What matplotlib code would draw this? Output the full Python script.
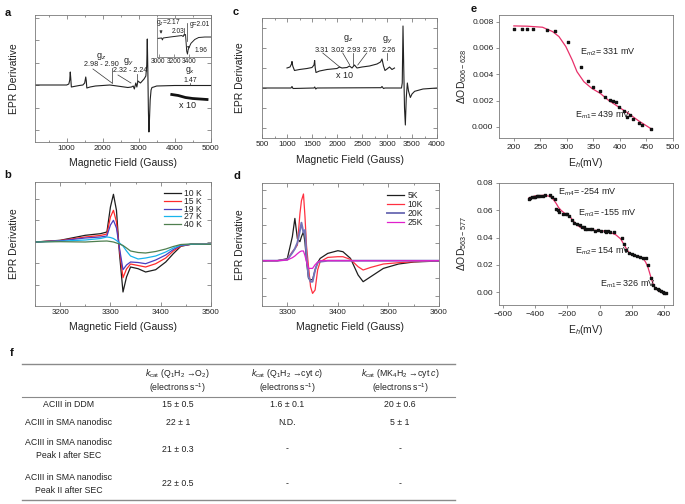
import numpy as np
import matplotlib.pyplot as plt
from matplotlib.ticker import MultipleLocator, FormatStrFormatter

plt.rcParams['font.family'] = ['Liberation Sans', 'DejaVu Sans']
plt.rcParams['mathtext.fontset'] = 'custom'
plt.rcParams['mathtext.rm'] = 'Liberation Sans'
plt.rcParams['mathtext.it'] = 'Liberation Sans:italic'

# ---------------- data ----------------
# a: full spectrum (field in G, signal in arb. units)
a_field = [120, 1000, 1060, 1085, 1100, 1115, 1130, 1200, 1350, 1450, 1500, 1530, 1545, 1560, 1650,
           1800, 2000, 2200, 2300, 2500, 2700, 2800, 2850, 2880, 2920, 2950, 2980, 3050, 3100, 3150,
           3200, 3225, 3240, 3255, 3270, 3285, 3300, 3320, 3345, 3370, 3420, 3500, 4000, 5000]
a_signal = [0, 0, 1, 5, 13, 6, -2, -1.5, -0.5, 0, 2, 8, 4, -3, -2,
            -1, -0.5, 0, -0.5, -1.5, -2.5, -2, -1, -4, 2, -2, 4, 2, 4, 6,
            9, 20, 46, 15, -25, -47, -35, -15, -5, -2.5, -2, -1, -0.5, -0.5]
a_x10_field = [3920, 4100, 4300, 4500, 4700, 4900]
a_x10_signal = [-9.5, -10.5, -12.5, -13.5, -14, -14.5]
# a inset
ai_field = [2980, 3040, 3050, 3060, 3150, 3250, 3300, 3320, 3330, 3350, 3365, 3375, 3385, 3420,
            3470, 3520, 3600, 3680]
ai_signal = [19, 19.5, 17.5, 19.5, 20.5, 21.5, 22, 21, 23, 23, 6, 3, 8, 14, 18, 20, 20.5, 20.5]
ai_ticks = [3000, 3200, 3400]

# c: spectrum and x10 trace
c_field = [500, 1080, 1100, 1120, 1540, 1555, 1575, 1600, 2880, 2900, 2930, 2960, 3290, 3305,
           3320, 3335, 3350, 3367, 3385, 3407, 3430, 3467, 3500, 3553, 3720, 4000]
c_signal = [0, 0, 1.5, -0.5, 0, 1, -1, 0, 0.3, 1.5, -0.5, 0, 0, 5,
            62, 20, -20, -37, -10, 5, -3, -9.5, -6, -3.3, -1, 0]
c_x10_field = [1000, 1060, 1090, 1100, 1115, 1150, 1250, 1400, 1500, 1540, 1553, 1565, 1580, 1650,
               1800, 2000, 2050, 2100, 2200, 2250, 2300, 2350, 2400, 2500, 2650, 2800, 2870, 2900,
               2930, 2960, 3000, 3050, 3100, 3150]
c_x10_signal = [20, 21, 24, 26.5, 22, 17.5, 18.5, 19.5, 20.5, 23, 27.5, 20, 15.5, 17,
                18.5, 19.5, 21, 20, 20.5, 22, 20, 23, 20, 21, 22, 24, 26, 29,
                22, 17.5, 19, 21, 18.5, 20]

# b: temperature series
b_labels = ['10 K', '15 K', '19 K', '27 K', '40 K']
b_colors = ['#1e1e1e', '#ff2a2a', '#4a3ec0', '#18b4ec', '#4f7f4f']
b_field = [3150, 3200, 3250, 3280, 3293, 3300, 3306, 3312, 3318, 3325, 3332, 3340, 3355, 3370,
           3390, 3410, 3425, 3440, 3460, 3500]
b_10K = [0, 1.7, 6.7, 8.3, 10, 35, 47.7, 31.7, -11.7, -50, -35, -25, -26.7, -30,
         -27.7, -20, -11.7, -4.3, -2.3, -2.3]
b_15K = [0, 1.5, 5, 6.5, 8, 25, 31.7, 20, -8, -35.7, -27, -22, -23.5, -25,
         -21.7, -16, -9, -4, -2.3, -2.3]
b_19K = [0, 1.2, 4, 5, 6, 17, 21.7, 14, -6, -27.7, -23, -20, -20.5, -21.7,
         -18, -13, -7.5, -3.5, -2.3, -2.3]
b_27K = [0, 0.8, 2, 3.5, 5, 4.5, 3.5, 1.5, -1, -4, -9, -14, -17, -16,
         -14, -10, -6, -3, -2.3, -2.3]
b_40K = [0, 0.3, 0, 0.8, 1, 0.5, 0, -1, -2, -3.5, -6, -9, -10.5, -11,
         -9.5, -7, -4.5, -2.5, -2, -2.3]

# d: temperature series
d_labels = ['5K', '10K', '20K', '25K']
d_colors = ['#1e1e1e', '#ff3040', '#7474b8', '#e020cc']
d_field = [3250, 3280, 3300, 3310, 3315, 3320, 3325, 3328, 3332, 3335, 3338, 3342, 3346, 3350,
           3355, 3360, 3365, 3380, 3400, 3410, 3425, 3440, 3450, 3465, 3490, 3520, 3550, 3600]
d_5K = [0, 0, 2, 24, 42.3, 22, 19, 24, 29, 18, 0, -17.7, -19, -19,
        -9.3, -2, 2.3, 7.3, 10, 9, 2.3, -14.3, -21, -16, -7.7, -3.3, -1.3, -0.3]
d_10K = [0, 0, 1.3, 9, 12, 15.7, 47, 60, 66.7, 44, 15, -6, -26, -32.7,
         -29.3, -9.3, -1, 3.3, 4, 4, 1.3, -6, -9.3, -6.7, -3.3, -2, -1, 0]
d_20K = [0, 0, 1, 8, 12, 18, 30, 38, 28, 30.7, 4, -16, -21, -21,
         -9.3, -2, -1, 0, 0, 0, 0, 0, 0, 0, 0, 0, 0, 0]
d_25K = [0, 0, 0.7, 3, 4.7, 7, 9, 9.7, 9.7, 5, -1, -7.7, -7.7, -7.7,
         -4, -1.5, 0, 0, 0, 0, 0, 0, 0, 0, 0, 0, 0, 0]

# e top: redox titration
et_eh = [200, 216, 225, 237, 262, 278, 303, 326, 339, 350, 363, 372, 381, 386, 392, 398, 408, 413,
         419, 425, 435, 441, 458]
et_od = [0.00741, 0.00747, 0.00747, 0.00744, 0.00737, 0.00729, 0.00648, 0.00457, 0.00348, 0.00305,
         0.00274, 0.00229, 0.00203, 0.00198, 0.0019, 0.00152, 0.00122, 0.00071, 0.00089, 0.00056,
         0.0003, 0.00013, -0.00018]
et_fit_eh = [200, 225, 254, 273, 285, 298, 310, 319, 332, 347, 363, 378, 397, 416, 435, 460]
et_fit_od = [0.00767, 0.00765, 0.00757, 0.00724, 0.00686, 0.0061, 0.00508, 0.00419, 0.00343, 0.00292,
             0.00254, 0.00203, 0.00152, 0.00102, 0.00046, -0.00018]
et_notes = ['E$_{m2}$= 331 mV', 'E$_{m1}$= 439 mV']

# e bottom
eb_eh = [-440, -430, -420, -410, -400, -390, -380, -370, -350, -340, -310, -295, -280, -270, -260,
         -250, -230, -210, -200, -190, -170, -160, -140, -120, -110, -100, -90, -80, -60, -50, -30,
         -10, 10, 30, 40, 50, 65, 90, 140, 150, 165, 180, 200, 215, 230, 250, 270, 285, 300, 320,
         330, 345, 360, 370, 380, 390, 400, 410]
eb_od = [0.068, 0.069, 0.0695, 0.0698, 0.07, 0.0702, 0.0703, 0.0705, 0.0705, 0.071, 0.0715, 0.070,
         0.068, 0.061, 0.060, 0.059, 0.0575, 0.0575, 0.057, 0.056, 0.053, 0.051, 0.050, 0.049, 0.048,
         0.0475, 0.0465, 0.046, 0.0465, 0.046, 0.045, 0.0455, 0.045, 0.0445, 0.044, 0.045, 0.044,
         0.044, 0.040, 0.035, 0.031, 0.029, 0.028, 0.027, 0.0265, 0.026, 0.025, 0.025, 0.020, 0.010,
         0.005, 0.003, 0.002, 0.0015, 0.0005, 0.0, -0.001, -0.001]
eb_fit_eh = [-440, -400, -350, -320, -300, -285, -270, -255, -240, -220, -200, -185, -170, -155,
             -140, -120, -100, -50, 0, 50, 100, 130, 145, 160, 175, 190, 210, 230, 250, 270, 285,
             300, 310, 320, 330, 340, 355, 370, 390, 410]
eb_fit_od = [0.069, 0.0705, 0.071, 0.0705, 0.0695, 0.0675, 0.065, 0.062, 0.060, 0.058, 0.057, 0.0555,
             0.053, 0.051, 0.049, 0.0475, 0.0465, 0.0455, 0.045, 0.0445, 0.042, 0.039, 0.036, 0.033,
             0.030, 0.028, 0.027, 0.0265, 0.026, 0.0245, 0.022, 0.018, 0.014, 0.010, 0.0065, 0.004,
             0.0018, 0.0005, -0.0005, -0.001]
eb_notes = ['E$_{m4}$= -254 mV', 'E$_{m3}$= -155 mV', 'E$_{m2}$= 154 mV', 'E$_{m1}$= 326 mV']

# f: table
tbl_header1 = [r'$\mathit{k}_{\rm cat}$ (Q$_1$H$_2$ →O$_2$)',
               r'$\mathit{k}_{\rm cat}$ (Q$_1$H$_2$ →cyt $\mathit{c}$)',
               r'$\mathit{k}_{\rm cat}$ (MK$_4$H$_2$ →cyt $\mathit{c}$)']
tbl_header2 = [r'(electrons s$^{-1}$)'] * 3
tbl_rows = [['ACIII in DDM'], ['ACIII in SMA nanodisc'],
            ['ACIII in SMA nanodisc', 'Peak I after SEC'],
            ['ACIII in SMA nanodisc', 'Peak II after SEC']]
tbl_o2 = ['15 ± 0.5', '22 ± 1', '21 ± 0.3', '22 ± 0.5']
tbl_q1_cytc = ['1.6 ± 0.1', 'N.D.', '-', '-']
tbl_mk4_cytc = ['20 ± 0.6', '5 ± 1', '-', '-']

# ---------------- figure ----------------
W, H = 685, 504
fig = plt.figure(figsize=(W / 100, H / 100), dpi=100)
TXT = '#222222'


def box(l, t, r, b):
    return fig.add_axes([l / W, 1 - b / H, (r - l) / W, (b - t) / H])


def frame(ax):
    for s in ax.spines.values():
        s.set_color('#7a7a7a')
        s.set_linewidth(0.6)


def epr_style(ax, major, minor, ystep, xlab_gap, ylab_gap, w, h):
    ax.xaxis.set_major_locator(MultipleLocator(major))
    ax.xaxis.set_minor_locator(MultipleLocator(minor))
    ax.yaxis.set_major_locator(MultipleLocator(ystep))
    ax.tick_params(which='both', direction='in', top=True, right=True, labelleft=False,
                   labelsize=5.8, pad=2, color='#666666', labelcolor=TXT)
    ax.tick_params(which='major', length=3, width=0.5)
    ax.tick_params(which='minor', length=1.5, width=0.5)
    frame(ax)
    ax.set_xlabel('Magnetic Field (Gauss)', fontsize=7.5, color=TXT)
    ax.set_ylabel('EPR Derivative', fontsize=7.5, color=TXT)
    ax.xaxis.set_label_coords(0.5, -xlab_gap / h)
    ax.yaxis.set_label_coords(-ylab_gap / w, 0.5)


def panel_letter(x, y, s):
    fig.text(x / W, 1 - y / H, s, fontsize=8, fontweight='bold', va='center', ha='left', color='#111')


# ---- a ----
ax = box(35, 15, 211, 142)
ax.plot(a_field, a_signal, color='#222222', lw=0.8)
ax.plot(a_x10_field, a_x10_signal, color='#111111', lw=2.0)
ax.set_xlim(120, 5010)
ax.set_ylim(-57, 70)
epr_style(ax, 1000, 500, 22.5, 16, 16, 176, 127)
ax.text(1953, 28, 'g$_z$', fontsize=6.5, ha='center', va='center', color=TXT)
ax.text(1960, 20.5, '2.98 - 2.90', fontsize=5.2, ha='center', va='center', color=TXT)
ax.plot([1731, 2258], [16, 2], color='#333', lw=0.5)
ax.plot([2258, 2258], [17, 2], color='#333', lw=0.5)
ax.text(2703, 23, 'g$_y$', fontsize=6.5, ha='center', va='center', color=TXT)
ax.text(2760, 14, '2.32 - 2.24', fontsize=5.2, ha='center', va='center', color=TXT)
ax.plot([2425, 2786], [10, 2], color='#333', lw=0.5)
ax.plot([2953, 2953], [11, 2], color='#333', lw=0.5)
ax.text(4425, 14.5, 'g$_x$', fontsize=6.3, ha='center', va='center', color=TXT)
ax.text(4425, 4.8, '1.47', fontsize=5.0, ha='center', va='center', color=TXT)
ax.plot([4425, 4425], [2.0, 0.3], color='#333', lw=0.5)
ax.text(4347, -20, 'x 10', fontsize=6.5, ha='center', va='center', color=TXT)

ins = box(157, 18, 211, 57)
ins.plot(ai_field, ai_signal, color='#222222', lw=0.7)
ins.set_xlim(2980, 3680)
ins.set_ylim(0, 40)
ins.set_xticks(ai_ticks)
ins.set_yticks([])
ins.tick_params(direction='in', length=2, width=0.5, labelsize=4.8, pad=1.0, color='#666', labelcolor=TXT)
frame(ins)
ins.text(3130, 35.5, 'g$_z$=2.17', fontsize=4.8, ha='center', va='center', color=TXT)
ins.text(3255, 26, '2.03', fontsize=4.8, ha='center', va='center', color=TXT)
ins.annotate('', xy=(3032, 21), xytext=(3032, 29),
             arrowprops=dict(arrowstyle='-|>', lw=0.5, color='#333', mutation_scale=4))
ins.plot([3328, 3328], [30, 23], color='#333', lw=0.5)
ins.text(3540, 33, 'g=2.01', fontsize=4.8, ha='center', va='center', color=TXT)
ins.plot([3367, 3367], [35, 16], color='#333', lw=0.5)
ins.text(3548, 7, '1.96', fontsize=4.8, ha='center', va='center', color=TXT)
ins.annotate('', xy=(3390, 5), xytext=(3390, 11),
             arrowprops=dict(arrowstyle='-|>', lw=0.5, color='#333', mutation_scale=4))

# ---- c ----
ax = box(262, 18, 437, 138)
ax.plot(c_field, c_signal, color='#222222', lw=0.8)
ax.plot(c_x10_field, c_x10_signal, color='#222222', lw=0.8)
ax.set_xlim(500, 4000)
ax.set_ylim(-50, 70)
epr_style(ax, 500, 250, 20, 17, 17, 175, 120)
ax.text(2215, 50, 'g$_z$', fontsize=6.5, ha='center', va='center', color=TXT)
for g, gx in zip(['3.31', '3.02', '2.93', '2.76'], [1695, 2015, 2335, 2655]):
    ax.text(gx, 38, g, fontsize=5.3, ha='center', va='center', color=TXT)
ax.text(3015, 48, 'g$_y$', fontsize=6.5, ha='center', va='center', color=TXT)
ax.text(3035, 37, '2.26', fontsize=5.3, ha='center', va='center', color=TXT)
for x0, y0, x1, y1 in [(1715, 35, 2055, 21), (2115, 35, 2255, 23), (2315, 35, 2315, 23),
                       (2595, 35, 2415, 23), (2995, 35, 2995, 28)]:
    ax.plot([x0, x1], [y0, y1], color='#333', lw=0.5)
ax.text(2154, 12, 'x 10', fontsize=6.5, ha='center', va='center', color=TXT)

# ---- b ----
ax = box(35, 182, 211, 306)
for series, lab, col in zip([b_10K, b_15K, b_19K, b_27K, b_40K], b_labels, b_colors):
    ax.plot(b_field, series, color=col, lw=0.9, label=lab)
ax.set_xlim(3150, 3500)
ax.set_ylim(-64, 60)
epr_style(ax, 100, 50, 21.5, 16, 16, 176, 124)
leg = ax.legend(loc='upper right', bbox_to_anchor=(0.97, 0.97), frameon=False, fontsize=6.2,
                handlelength=2.0, handletextpad=0.4, labelspacing=-0.15, borderaxespad=0)
for t in leg.get_texts():
    t.set_color(TXT)

# ---- d ----
ax = box(262, 183, 439, 306)
for series, lab, col in zip([d_5K, d_10K, d_20K, d_25K], d_labels, d_colors):
    ax.plot(d_field, series, color=col, lw=1.4 if lab == '20K' else 0.9, label=lab)
ax.set_xlim(3250, 3600)
ax.set_ylim(-45.3, 77.7)
epr_style(ax, 100, 50, 17.7, 16, 17, 177, 123)
leg = ax.legend(loc='upper right', bbox_to_anchor=(0.93, 0.96), frameon=False, fontsize=6.2,
                handlelength=2.0, handletextpad=0.4, labelspacing=0.0, borderaxespad=0)
for t in leg.get_texts():
    t.set_color(TXT)


def titr_style(ax, w, h):
    ax.tick_params(direction='out', length=2.5, width=0.5, labelsize=6, pad=1.5,
                   color='#666', labelcolor=TXT)
    frame(ax)
    ax.set_xlabel('E$_h$(mV)', fontsize=7.5, color=TXT)
    ax.xaxis.set_label_coords(0.5, -18 / h)


# ---- e top ----
ax = box(499, 15, 673, 138)
ax.plot(et_fit_eh, et_fit_od, color='#e8306a', lw=0.9)
ax.scatter(et_eh, et_od, s=3, marker='s', color='#111111', zorder=3)
ax.set_xlim(172, 500)
ax.set_ylim(-0.00085, 0.0085)
ax.xaxis.set_major_locator(MultipleLocator(50))
ax.yaxis.set_major_locator(MultipleLocator(0.002))
ax.yaxis.set_major_formatter(FormatStrFormatter('%.3f'))
titr_style(ax, 174, 123)
ax.set_ylabel('ΔOD$_{606-628}$', fontsize=7.5, color=TXT)
ax.yaxis.set_label_coords(-30 / 174, 0.5)
ax.text(325, 0.0057, et_notes[0], fontsize=6.5, ha='left', va='center', color=TXT)
ax.text(315, 0.0009, et_notes[1], fontsize=6.5, ha='left', va='center', color=TXT)

# ---- e bottom ----
ax = box(499, 183, 673, 305)
ax.plot(eb_fit_eh, eb_fit_od, color='#e8306a', lw=0.9)
ax.scatter(eb_eh, eb_od, s=3, marker='s', color='#111111', zorder=3)
ax.set_xlim(-625, 455)
ax.set_ylim(-0.0095, 0.08)
ax.xaxis.set_major_locator(MultipleLocator(200))
ax.yaxis.set_major_locator(MultipleLocator(0.02))
ax.yaxis.set_major_formatter(FormatStrFormatter('%.2f'))
titr_style(ax, 174, 122)
ax.set_ylabel('ΔOD$_{563-577}$', fontsize=7.5, color=TXT)
ax.yaxis.set_label_coords(-30 / 174, 0.5)
for note, nx, ny in zip(eb_notes, [-257, -132, -153, 2], [0.0729, 0.0578, 0.0296, 0.0057]):
    ax.text(nx, ny, note, fontsize=6.5, ha='left', va='center', color=TXT)

# ---- f table ----
tax = box(22, 364, 455, 500)
tax.axis('off')
tax.set_xlim(0, 1)
tax.set_ylim(1, 0)
for yl, lw in [(0.0, 1.0), (0.243, 0.8), (1.0, 1.0)]:
    tax.axhline(yl, color='#8a8a8a', lw=lw, clip_on=False)
col_x = [0.1085, 0.36, 0.612, 0.873]
for i in range(3):
    tax.text(col_x[i + 1], 0.07, tbl_header1[i], fontsize=6.3, ha='center', va='center', color=TXT)
    tax.text(col_x[i + 1], 0.175, tbl_header2[i], fontsize=6.3, ha='center', va='center', color=TXT)
row_y = [0.30, 0.43, 0.625, 0.88]
for r, lines in enumerate(tbl_rows):
    if len(lines) == 1:
        tax.text(col_x[0], row_y[r], lines[0], fontsize=6.3, ha='center', va='center', color=TXT)
    else:
        tax.text(col_x[0], row_y[r] - 0.048, lines[0], fontsize=6.3, ha='center', va='center', color=TXT)
        tax.text(col_x[0], row_y[r] + 0.048, lines[1], fontsize=6.3, ha='center', va='center', color=TXT)
    for c, vals in enumerate([tbl_o2, tbl_q1_cytc, tbl_mk4_cytc]):
        tax.text(col_x[c + 1], row_y[r], vals[r], fontsize=6.3, ha='center', va='center', color=TXT)

panel_letter(5, 13, 'a')
panel_letter(233, 12, 'c')
panel_letter(471, 9, 'e')
panel_letter(4, 175, 'b')
panel_letter(234, 176, 'd')
panel_letter(10, 353, 'f')

fig.savefig('out.png', dpi=100)
